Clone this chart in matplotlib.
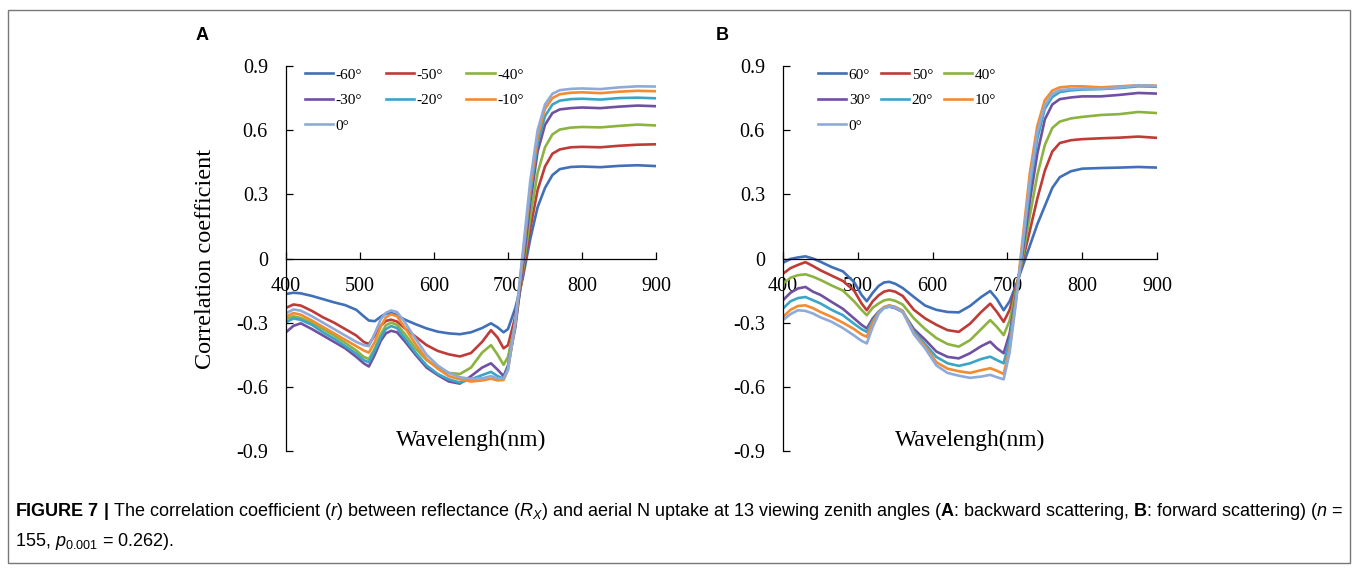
import matplotlib
matplotlib.use('Agg')
import matplotlib.pyplot as plt
from matplotlib.patches import Rectangle

plt.rcParams['font.family'] = ['Liberation Serif', 'DejaVu Serif']
plt.rcParams['axes.unicode_minus'] = False
plt.rcParams['mathtext.fontset'] = 'custom'
plt.rcParams['mathtext.rm'] = 'Liberation Sans'
plt.rcParams['mathtext.it'] = 'Liberation Sans:italic'
plt.rcParams['mathtext.bf'] = 'Liberation Sans:bold'

# wavelengths (nm)
WL_A = [400, 410, 420, 435, 450, 465, 480, 495, 505, 512, 520, 528, 535, 542, 550, 560,
        575, 590, 605, 620, 635, 650, 665, 677, 686, 694, 700, 710, 720, 730, 740,
        750, 760, 770, 785, 800, 825, 850, 875, 900]
WL_B = [400, 410, 420, 430, 440, 450, 465, 480, 495, 505, 512, 520, 528, 535, 542, 550,
        560, 575, 590, 605, 620, 635, 650, 665, 677, 686, 695, 703, 712, 720, 730,
        740, 750, 760, 770, 785, 800, 825, 850, 875, 900]

# panel A: backward scattering
A_M60 = [-0.166, -0.160, -0.163, -0.175, -0.190, -0.205, -0.218, -0.240, -0.270, -0.290,
         -0.293, -0.272, -0.258, -0.254, -0.265, -0.285, -0.307, -0.327, -0.342, -0.350,
         -0.354, -0.345, -0.325, -0.303, -0.322, -0.345, -0.330, -0.230, -0.090, 0.090,
         0.240, 0.330, 0.390, 0.418, 0.428, 0.430, 0.427, 0.433, 0.436, 0.432]
A_M50 = [-0.231, -0.215, -0.220, -0.245, -0.275, -0.300, -0.330, -0.360, -0.390, -0.400,
         -0.360, -0.315, -0.292, -0.286, -0.295, -0.325, -0.365, -0.405, -0.432, -0.448,
         -0.458, -0.442, -0.390, -0.335, -0.370, -0.420, -0.405, -0.270, -0.080, 0.140,
         0.320, 0.430, 0.490, 0.510, 0.520, 0.522, 0.520, 0.527, 0.532, 0.534]
A_M40 = [-0.283, -0.270, -0.278, -0.300, -0.330, -0.360, -0.395, -0.430, -0.460, -0.470,
         -0.420, -0.355, -0.312, -0.300, -0.310, -0.350, -0.420, -0.475, -0.510, -0.535,
         -0.540, -0.510, -0.440, -0.405, -0.450, -0.497, -0.460, -0.300, -0.060, 0.190,
         0.400, 0.520, 0.580, 0.603, 0.612, 0.615, 0.613, 0.620, 0.626, 0.622]
A_M30 = [-0.345, -0.315, -0.303, -0.330, -0.360, -0.390, -0.420, -0.460, -0.490, -0.505,
         -0.450, -0.385, -0.350, -0.338, -0.345, -0.385, -0.450, -0.510, -0.545, -0.575,
         -0.585, -0.550, -0.510, -0.490, -0.520, -0.550, -0.500, -0.320, -0.040, 0.260,
         0.500, 0.625, 0.680, 0.697, 0.703, 0.706, 0.703, 0.710, 0.715, 0.712]
A_M20 = [-0.298, -0.280, -0.287, -0.310, -0.345, -0.375, -0.410, -0.445, -0.475, -0.485,
         -0.430, -0.370, -0.330, -0.316, -0.325, -0.370, -0.440, -0.500, -0.540, -0.565,
         -0.580, -0.565, -0.545, -0.530, -0.550, -0.562, -0.510, -0.300, 0.000, 0.300,
         0.540, 0.665, 0.720, 0.738, 0.745, 0.747, 0.743, 0.750, 0.752, 0.749]
A_M10 = [-0.272, -0.255, -0.263, -0.290, -0.320, -0.350, -0.380, -0.410, -0.430, -0.440,
         -0.390, -0.318, -0.275, -0.261, -0.270, -0.320, -0.400, -0.470, -0.515, -0.550,
         -0.565, -0.575, -0.570, -0.562, -0.570, -0.568, -0.520, -0.300, 0.010, 0.330,
         0.570, 0.700, 0.750, 0.768, 0.775, 0.777, 0.773, 0.780, 0.784, 0.782]
A_0 = [-0.256, -0.238, -0.244, -0.270, -0.300, -0.330, -0.360, -0.390, -0.405, -0.410,
       -0.350, -0.285, -0.254, -0.243, -0.250, -0.295, -0.375, -0.450, -0.500, -0.535,
       -0.555, -0.563, -0.560, -0.550, -0.560, -0.563, -0.520, -0.290, 0.030, 0.360,
       0.600, 0.720, 0.770, 0.787, 0.793, 0.795, 0.792, 0.800, 0.805, 0.804]

# panel B: forward scattering
B_60 = [-0.020, -0.002, 0.005, 0.010, 0.000, -0.015, -0.040, -0.060, -0.110, -0.170,
        -0.200, -0.160, -0.128, -0.112, -0.109, -0.118, -0.138, -0.180, -0.220, -0.240,
        -0.250, -0.252, -0.222, -0.180, -0.152, -0.190, -0.242, -0.200, -0.120, -0.040,
        0.060, 0.160, 0.245, 0.330, 0.380, 0.408, 0.420, 0.423, 0.425, 0.428, 0.425]
B_50 = [-0.071, -0.045, -0.030, -0.017, -0.035, -0.055, -0.080, -0.105, -0.150, -0.210,
        -0.242, -0.200, -0.172, -0.155, -0.149, -0.155, -0.175, -0.240, -0.280, -0.310,
        -0.335, -0.343, -0.305, -0.250, -0.211, -0.250, -0.296, -0.240, -0.130, -0.015,
        0.130, 0.280, 0.410, 0.500, 0.540, 0.553, 0.558, 0.562, 0.565, 0.570, 0.564]
B_40 = [-0.118, -0.090, -0.078, -0.074, -0.085, -0.100, -0.126, -0.150, -0.200, -0.240,
        -0.265, -0.230, -0.210, -0.196, -0.191, -0.198, -0.215, -0.280, -0.330, -0.372,
        -0.400, -0.412, -0.382, -0.330, -0.288, -0.320, -0.358, -0.290, -0.140, -0.005,
        0.200, 0.390, 0.530, 0.610, 0.640, 0.655, 0.662, 0.671, 0.675, 0.685, 0.680]
B_30 = [-0.195, -0.160, -0.140, -0.133, -0.155, -0.170, -0.203, -0.235, -0.280, -0.310,
        -0.327, -0.280, -0.248, -0.231, -0.225, -0.232, -0.250, -0.330, -0.380, -0.435,
        -0.460, -0.467, -0.443, -0.410, -0.389, -0.420, -0.443, -0.350, -0.160, 0.020,
        0.270, 0.490, 0.650, 0.720, 0.745, 0.753, 0.758, 0.758, 0.765, 0.774, 0.771]
B_20 = [-0.234, -0.200, -0.185, -0.180, -0.195, -0.210, -0.240, -0.265, -0.305, -0.330,
        -0.343, -0.290, -0.250, -0.228, -0.221, -0.228, -0.245, -0.340, -0.400, -0.460,
        -0.490, -0.502, -0.490, -0.470, -0.459, -0.475, -0.490, -0.380, -0.170, 0.040,
        0.330, 0.560, 0.700, 0.755, 0.778, 0.786, 0.790, 0.792, 0.797, 0.805, 0.803]
B_10 = [-0.273, -0.240, -0.222, -0.219, -0.232, -0.250, -0.273, -0.300, -0.330, -0.355,
        -0.366, -0.300, -0.252, -0.227, -0.219, -0.226, -0.245, -0.350, -0.410, -0.485,
        -0.515, -0.527, -0.535, -0.522, -0.513, -0.525, -0.540, -0.420, -0.180, 0.080,
        0.400, 0.620, 0.740, 0.785, 0.800, 0.805, 0.805, 0.800, 0.805, 0.810, 0.808]
B_0 = [-0.288, -0.260, -0.242, -0.245, -0.257, -0.275, -0.296, -0.325, -0.360, -0.385,
       -0.397, -0.320, -0.258, -0.232, -0.224, -0.230, -0.250, -0.355, -0.420, -0.500,
       -0.535, -0.548, -0.558, -0.552, -0.544, -0.555, -0.565, -0.440, -0.190, 0.060,
       0.360, 0.590, 0.715, 0.770, 0.787, 0.792, 0.795, 0.794, 0.800, 0.810, 0.806]

LABELS_A = ['-60°', '-50°', '-40°', '-30°', '-20°', '-10°', '0°']
LABELS_B = ['60°', '50°', '40°', '30°', '20°', '10°', '0°']
XTICKS = [400, 500, 600, 700, 800, 900]
YTICKS = [-0.9, -0.6, -0.3, 0, 0.3, 0.6, 0.9]
YTICK_LABELS = ['-0.9', '-0.6', '-0.3', '0', '0.3', '0.6', '0.9']

COLORS = ['#4070B8', '#BE3B37', '#8CB33F', '#7050A0', '#3AA5C5', '#F38B30', '#8EAADB']


def draw_panel(ax, wl, series, labels, lx, colspace):
    for vals, lab, c in zip(series, labels, COLORS):
        ax.plot(wl, vals, color=c, lw=1.9, label=lab)
    ax.set_xlim(400, 900)
    ax.set_ylim(-0.9, 0.9)
    for s in ['top', 'right']:
        ax.spines[s].set_visible(False)
    ax.spines['bottom'].set_position(('data', 0))
    for s in ['left', 'bottom']:
        ax.spines[s].set_linewidth(0.9)
    ax.set_xticks(XTICKS)
    ax.set_yticks(YTICKS)
    ax.set_yticklabels(YTICK_LABELS)
    ax.tick_params(direction='in', length=5, width=0.9, labelsize=14.5, pad=13)
    ax.text(0.5, 0.028, 'Wavelengh(nm)', transform=ax.transAxes,
            ha='center', va='center', fontsize=16.8)
    h, l = ax.get_legend_handles_labels()
    order = [0, 3, 6, 1, 4, 2, 5]
    ax.legend([h[i] for i in order], [l[i] for i in order], ncol=3,
              loc='upper left', bbox_to_anchor=(lx, 0.995), frameon=False,
              fontsize=11, handlelength=1.85, handletextpad=0.15,
              columnspacing=colspace, labelspacing=0.78,
              borderpad=0, borderaxespad=0)


fig = plt.figure(figsize=(13.57, 5.68), dpi=100)
axA = fig.add_axes([286 / 1357, 1 - 451 / 568, 370 / 1357, 385 / 568])
axB = fig.add_axes([783 / 1357, 1 - 451 / 568, 374 / 1357, 385 / 568])

draw_panel(axA, WL_A, [A_M60, A_M50, A_M40, A_M30, A_M20, A_M10, A_0], LABELS_A, 0.051, 1.55)
draw_panel(axB, WL_B, [B_60, B_50, B_40, B_30, B_20, B_10, B_0], LABELS_B, 0.094, 0.72)
axA.set_ylabel('Correlation coefficient', fontsize=17.5)
axA.yaxis.set_label_coords(-0.19, 0.5)

fig.text(196 / 1357, 1 - 35 / 568, 'A', fontsize=13, fontweight='bold',
         family='Liberation Sans', ha='left', va='center')
fig.text(716 / 1357, 1 - 35 / 568, 'B', fontsize=13, fontweight='bold',
         family='Liberation Sans', ha='left', va='center')

cap1 = (r'$\mathbf{FIGURE\ 7\ |}$ The correlation coefficient ($r$) between reflectance '
        r'($R_X$) and aerial N uptake at 13 viewing zenith angles ($\mathbf{A}$: backward '
        r'scattering, $\mathbf{B}$: forward scattering) ($n$ =')
cap2 = r'155, $p_{0.001}$ = 0.262).'
fig.text(15 / 1357, 1 - 511 / 568, cap1, fontsize=13.0, family='Liberation Sans',
         ha='left', va='center')
fig.text(15 / 1357, 1 - 541 / 568, cap2, fontsize=13.0, family='Liberation Sans',
         ha='left', va='center')

fig.add_artist(Rectangle((8 / 1357, 5 / 568), 1342 / 1357, 553 / 568,
                         transform=fig.transFigure, fill=False,
                         edgecolor='#777777', lw=1.0))

fig.savefig('out.png', dpi=100)
